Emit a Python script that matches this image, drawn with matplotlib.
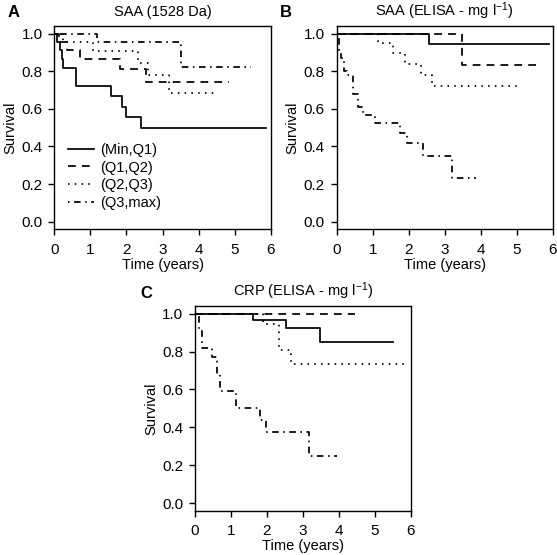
import matplotlib
matplotlib.use('Agg')
import matplotlib.pyplot as plt

plt.rcParams['font.family'] = ['Liberation Sans', 'DejaVu Sans']
plt.rcParams['mathtext.default'] = 'regular'
plt.rcParams['font.size'] = 10.5

labels = ['(Min,Q1)', '(Q1,Q2)', '(Q2,Q3)', '(Q3,max)']
xticks = [0, 1, 2, 3, 4, 5, 6]
yticks = [0.0, 0.2, 0.4, 0.6, 0.8, 1.0]

# panel A: SAA (1528 Da)
a_t1 = [0, 0.08, 0.15, 0.2, 0.25, 0.6, 1.58, 1.87, 1.98, 2.41, 5.87]
a_s1 = [1, 0.955, 0.91, 0.864, 0.818, 0.72, 0.667, 0.61, 0.555, 0.497, 0.497]
a_t2 = [0, 0.12, 0.34, 0.71, 1.81, 2.55, 4.85]
a_s2 = [1, 0.955, 0.91, 0.864, 0.81, 0.745, 0.745]
a_t3 = [0, 0.25, 1.08, 2.32, 2.6, 3.18, 4.44]
a_s3 = [1, 0.957, 0.905, 0.845, 0.78, 0.683, 0.683]
a_t4 = [0, 1.17, 3.52, 5.45]
a_s4 = [1, 0.957, 0.82, 0.82]

# panel B: SAA ELISA
b_t1 = [0, 2.56, 5.9]
b_s1 = [1, 0.943, 0.943]
b_t2 = [0, 3.49, 5.58]
b_s2 = [1, 0.833, 0.833]
b_t3 = [0, 1.16, 1.55, 1.9, 2.33, 2.65, 5.0]
b_s3 = [1, 0.95, 0.895, 0.84, 0.78, 0.722, 0.722]
b_t4 = [0, 0.05, 0.12, 0.19, 0.28, 0.44, 0.59, 0.74, 1.07, 1.77, 1.95, 2.39, 3.19, 3.86]
b_s4 = [1, 0.91, 0.87, 0.8, 0.78, 0.68, 0.61, 0.567, 0.523, 0.47, 0.42, 0.35, 0.23, 0.23]

# panel C: CRP ELISA
c_t1 = [0, 1.62, 2.53, 3.49, 5.5]
c_s1 = [1, 0.966, 0.926, 0.85, 0.85]
c_t2 = [0, 4.45]
c_s2 = [1, 1]
c_t3 = [0, 1.89, 2.35, 2.67, 5.85]
c_s3 = [1, 0.943, 0.807, 0.734, 0.734]
c_t4 = [0, 0.12, 0.2, 0.47, 0.61, 0.7, 1.13, 1.8, 1.98, 3.17, 3.95]
c_s4 = [1, 0.91, 0.82, 0.772, 0.68, 0.59, 0.5, 0.44, 0.375, 0.25, 0.25]

dash_styles = [None, (4.5, 3.5), (0.9, 3.0), (0.9, 2.6, 3.8, 2.6)]


def panel(ax, title, curves):
    for (t, s), d, lab in zip(curves, dash_styles, labels):
        line, = ax.step(t, s, where='post', color='k', lw=1.25, label=lab)
        if d is not None:
            line.set_dashes(d)
    ax.set_xlim(0, 6)
    ax.set_ylim(-0.04, 1.04)
    ax.set_xticks(xticks)
    ax.set_yticks(yticks)
    ax.set_yticklabels(['%.1f' % v for v in yticks])
    ax.tick_params(direction='out', length=4.5, width=1.0, pad=4, labelsize=11)
    ax.tick_params(axis='x', pad=5)
    for sp in ax.spines.values():
        sp.set_linewidth(1.0)
    ax.set_title(title, fontsize=10.5, pad=7)
    ax.set_xlabel('Time (years)', fontsize=10.5, labelpad=1)
    ax.set_ylabel('Survival', fontsize=10.5, labelpad=3)


fig = plt.figure(figsize=(5.57, 5.55), dpi=100)
ax_a = fig.add_axes([0.0975, 0.5868, 0.3885, 0.3664])
ax_b = fig.add_axes([0.6045, 0.5868, 0.3878, 0.3664])
ax_c = fig.add_axes([0.3501, 0.0798, 0.3873, 0.3688])

panel(ax_a, 'SAA (1528 Da)',
      [(a_t1, a_s1), (a_t2, a_s2), (a_t3, a_s3), (a_t4, a_s4)])
panel(ax_b, 'SAA (ELISA - mg l$^{-1}$)',
      [(b_t1, b_s1), (b_t2, b_s2), (b_t3, b_s3), (b_t4, b_s4)])
panel(ax_c, 'CRP (ELISA - mg l$^{-1}$)',
      [(c_t1, c_s1), (c_t2, c_s2), (c_t3, c_s3), (c_t4, c_s4)])

ax_a.legend(loc='upper left', bbox_to_anchor=(0.065, 0.425), frameon=False,
            handlelength=1.75, handletextpad=0.45, labelspacing=0.25,
            borderpad=0, borderaxespad=0, handleheight=0.7, fontsize=10.5)

fig.text(0.025, 0.977, 'A', fontsize=12, fontweight='bold', ha='center', va='center')
fig.text(0.514, 0.977, 'B', fontsize=12, fontweight='bold', ha='center', va='center')
fig.text(0.263, 0.472, 'C', fontsize=12, fontweight='bold', ha='center', va='center')

fig.savefig('out.png', dpi=100)
